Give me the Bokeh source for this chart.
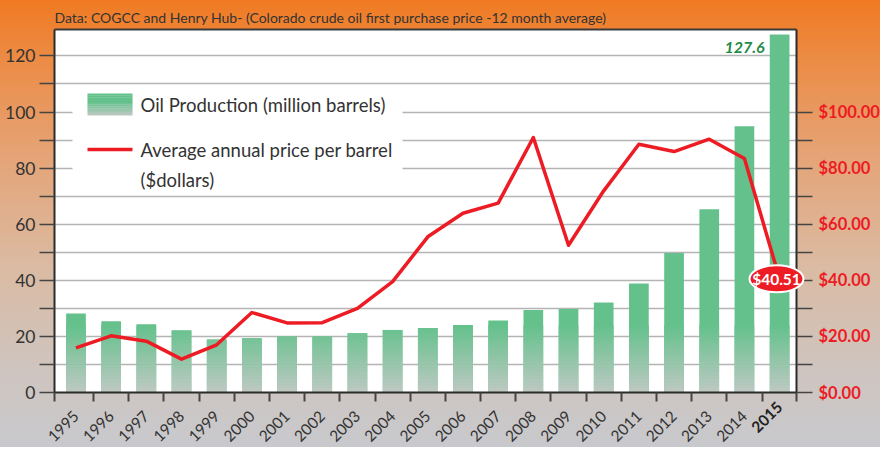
import math
from bokeh.plotting import figure
from bokeh.models import Range1d, LinearAxis, FixedTicker, NumeralTickFormatter
from bokeh.core.properties import value
from bokeh.embed import file_html
from bokeh.resources import INLINE

# ---------------- data ----------------
years = list(range(1995, 2016))
production = [28.2, 25.4, 24.3, 22.1, 18.9, 19.3, 20.0, 20.0, 21.1, 22.3, 23.0,
              24.1, 25.7, 29.4, 29.8, 32.1, 38.9, 49.7, 65.3, 94.9, 127.6]
price = [15.9, 20.2, 18.3, 11.9, 17.0, 28.5, 24.8, 24.9, 30.0, 39.5, 55.5,
         63.9, 67.5, 90.9, 52.5, 71.9, 88.5, 85.9, 90.3, 83.4, 40.51]
left_ticks = [0, 20, 40, 60, 80, 100, 120]
left_minor = [10, 30, 50, 70, 90, 110]
right_ticks = [0, 20, 40, 60, 80, 100]
right_minor = [10, 30, 50, 70, 90]
grid_ticks = list(range(10, 130, 10))
title_text = "Data: COGCC and Henry Hub- (Colorado crude oil first purchase price -12 month average)"
legend_labels = ["Oil Production (million barrels)",
                 "Average annual price per barrel", "($dollars)"]

# ---------------- layout ----------------
W, H = 880, 447
X0, X1 = -0.61, 20.48          # plot-area edges (category index units)
BAND = 742 / (X1 - X0)         # pixels per category
XL = X0 - 54 / BAND            # frame spans the whole figure width
XR = X1 + 84 / BAND
PXU = 2.805                    # pixels per value unit
Y1 = 363 / PXU                 # top of plot area
YT = Y1 + 2 / PXU
YB = -55 / PXU                 # frame continues below zero for the year labels
FONT = "Lato"
GREEN = (100, 193, 140)
GRAY = (192, 201, 196)
RED = "#ED1C24"
DARK = "#2b2b2b"


def mix(a, b, t):
    return "#%02x%02x%02x" % tuple(int(round(a[i] + (b[i] - a[i]) * t)) for i in range(3))


def dx(px):
    return X0 + (px - 62) / BAND


def dy(py):
    return (400 - py) / PXU


idx = list(range(len(years)))

p = figure(width=W, height=H, output_backend="svg", toolbar_location=None,
           x_range=Range1d(XL, XR), y_range=Range1d(YB, YT),
           min_border_left=0, min_border_right=0, min_border_top=27, min_border_bottom=0,
           background_fill_color=None, background_fill_alpha=0,
           border_fill_color=None, border_fill_alpha=0, outline_line_color=None)
p.styles = {"background": "linear-gradient(to bottom, #F07A22 0%, #EC8A42 12%, #E5A477 35%, "
                          "#DABBA3 60%, #CFC4BE 82%, #C8C9CD 100%)"}
p.extra_y_ranges = {"price": Range1d(YB, YT)}

# white plot area + top border
p.quad(left=[X0], right=[X1], bottom=[0], top=[Y1], fill_color="white",
       line_color=None, level="image")

# title
p.title.text = title_text
p.title.text_font = FONT
p.title.text_font_size = "14px"
p.title.text_font_style = "normal"
p.title.text_color = "#333333"
p.title.align = "left"
p.title.offset = 54
p.title.standoff = 4

# grid limited to the plot area
p.xgrid.visible = False
yg = p.ygrid[0]
yg.ticker = FixedTicker(ticks=grid_ticks)
yg.grid_line_color = "#b4b4b4"
yg.grid_line_width = 1.5
try:
    yg.cross_bounds = (X0, X1)
    yg.bounds = (0, Y1)
except Exception:
    yg.visible = False
    p.segment(x0=[X0] * len(grid_ticks), x1=[X1] * len(grid_ticks), y0=grid_ticks,
              y1=grid_ticks, line_color="#b4b4b4", line_width=1.5, level="underlay")

p.segment(x0=[X0], x1=[X1], y0=[Y1], y1=[Y1], line_color="#3a3a3a", line_width=2)


def style_y(ax, size, bold, color, tick_len, standoff):
    ax.major_tick_out = tick_len
    ax.major_tick_in = 0
    ax.minor_tick_out = tick_len
    ax.minor_tick_in = 0
    ax.axis_line_color = DARK
    ax.axis_line_width = 2
    ax.major_tick_line_color = "#444444"
    ax.minor_tick_line_color = "#444444"
    ax.major_tick_line_width = 1.5
    ax.minor_tick_line_width = 1.5
    ax.major_label_text_font = FONT
    ax.major_label_text_font_size = size
    ax.major_label_text_font_style = "bold" if bold else "normal"
    ax.major_label_text_color = color
    ax.major_label_standoff = standoff


# left axis at the plot-area edge
ya = p.yaxis[0]
ya.fixed_location = X0
ya.bounds = (0, Y1)
ya.ticker = FixedTicker(ticks=left_ticks, minor_ticks=left_minor)
style_y(ya, "17.5px", False, "#333333", 15, 4)

# right axis
ra = LinearAxis(y_range_name="price", bounds=(0, Y1), fixed_location=X1,
                ticker=FixedTicker(ticks=right_ticks, minor_ticks=right_minor),
                formatter=NumeralTickFormatter(format="$0.00"))
style_y(ra, "16.5px", True, RED, 16, 6)
p.add_layout(ra, "right")

# bottom axis at value 0 (years; the last one drawn bold by a second axis)
xa = p.xaxis[0]
xa.fixed_location = 0
xa.bounds = (X0, X1)
xa.ticker = FixedTicker(ticks=idx, minor_ticks=[i + 0.5 for i in idx[:-1]] + [X0, X1])
xa.major_tick_out = 0
xa.major_tick_in = 0
xa.minor_tick_out = 9
xa.minor_tick_in = 0
xa.axis_line_color = DARK
xa.axis_line_width = 2
xa.minor_tick_line_color = "#444444"
xa.minor_tick_line_width = 2
overrides = {i: str(y) for i, y in zip(idx, years)}
overrides[idx[-1]] = ""
xa.major_label_overrides = overrides
xa.major_label_orientation = math.pi / 4
xa.major_label_text_font = FONT
xa.major_label_text_font_size = "15.5px"
xa.major_label_text_color = "#333333"
xa.major_label_standoff = 12

xb = LinearAxis(fixed_location=0, ticker=FixedTicker(ticks=[idx[-1]], minor_ticks=[]))
xb.major_label_overrides = {idx[-1]: str(years[-1])}
xb.axis_line_color = None
xb.major_tick_line_color = None
xb.minor_tick_line_color = None
xb.major_tick_out = 0
xb.major_tick_in = 0
xb.major_label_orientation = math.pi / 4
xb.major_label_text_font = FONT
xb.major_label_text_font_size = "15.5px"
xb.major_label_text_font_style = "bold"
xb.major_label_text_color = "#222222"
xb.major_label_standoff = 12
p.add_layout(xb, "below")

# bars: solid green + gradient towards the base
BW = 0.56
p.vbar(x=idx, top=production, width=BW, fill_color=mix(GRAY, GREEN, 1), line_color=None)
G, N = 24.0, 24
sx, sb, st, sc = [], [], [], []
for k in range(N):
    b = k * G / N
    t = (k + 1) * G / N
    col = mix(GRAY, GREEN, (k + 0.5) / N)
    for i, v in zip(idx, production):
        if v > b:
            sx.append(i)
            sb.append(max(0, b - 0.15))
            st.append(min(v, t))
            sc.append(col)
p.vbar(x=sx, bottom=sb, top=st, width=BW, fill_color=sc, line_color=None)

# price line
p.line(idx, price, y_range_name="price", line_color=RED, line_width=3.5, line_join="round")

# legend (hand built)
p.quad(left=[dx(80)], right=[dx(410)], top=[dy(97)], bottom=[dy(199)],
       fill_color="white", line_color=None)
LN = 12
lb, lt, lc = [], [], []
for k in range(LN):
    py0 = 123 - k * 22 / LN
    py1 = 123 - (k + 1) * 22 / LN
    lb.append(dy(py0) + (0 if k == 0 else -0.1))
    lt.append(dy(py1))
    lc.append(mix(GRAY, GREEN, min(1, (k + 0.5) / LN * 1.6)))
p.quad(left=[dx(95)] * LN, right=[dx(140)] * LN, bottom=lb, top=lt, fill_color=lc, line_color=None)
p.line([dx(95), dx(140)], [dy(157), dy(157)], line_color=RED, line_width=3.5)
p.text(x=[dx(148)] * 3, y=[dy(112), dy(157), dy(187)], text=legend_labels,
       text_font=value(FONT), text_font_size="18.5px", text_color="#333333",
       text_baseline="middle", text_align="left")

# value labels
p.text(x=[idx[-1]], y=[production[-1]], text=["%.1f" % production[-1]],
       x_offset=-15, y_offset=13, text_align="right", text_baseline="middle",
       text_font=value(FONT), text_font_size="16px", text_font_style="bold italic",
       text_color="#1E8B46")

# price call-out bubble straddling the right edge, drawn above the axis
bx = X1 - 20 / BAND
p.ellipse(x=[bx], y=[price[-1]], width=54, height=27, width_units="screen",
          height_units="screen", y_range_name="price",
          fill_color=RED, line_color="white", line_width=2, level="overlay")
p.text(x=[bx], y=[price[-1]], text=["$%.2f" % price[-1]], y_range_name="price",
       text_align="center", text_baseline="middle", text_color="white",
       text_font=value(FONT), text_font_size="15.5px", text_font_style="bold",
       level="overlay")

open("out.html", "w").write(file_html(p, INLINE))
